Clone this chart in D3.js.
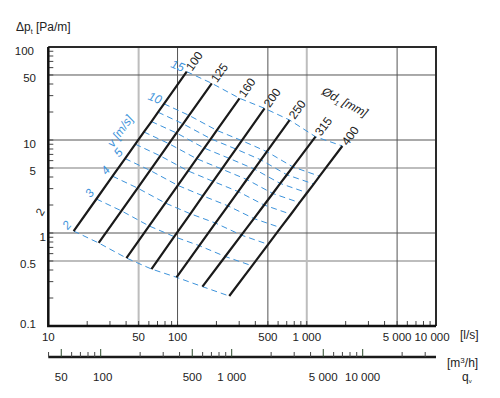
<!DOCTYPE html>
<html>
<head>
<meta charset="utf-8">
<script src="https://d3js.org/d3.v7.min.js"></script>
<style>
body{margin:0;background:#fff;}
svg text{font-family:"Liberation Sans",Arial,Helvetica,sans-serif;fill:#222;}
</style>
</head>
<body>
<div id="chart"></div>
<script>
// duct diameters [mm] and air velocities [m/s]
var diameters=[100,125,160,200,250,315,400];
var velocities=[2,3,4,5,6,7,8,9,10,15];
var velocityLabels=[2,3,4,5,10,15];

// pressure drop [Pa/m], one row per velocity, one value per diameter
var dp_v2 =[1.05,0.781,0.538,0.41,0.334,0.265,0.21];
var dp_v3 =[2.32,1.73,1.19,0.914,0.731,0.559,0.444];
var dp_v4 =[4.08,3.04,2.10,1.61,1.28,0.949,0.754];
var dp_v5 =[6.31,4.71,3.25,2.51,1.96,1.43,1.14];
var dp_v6 =[9.02,6.74,4.65,3.59,2.79,2.0,1.59];
var dp_v7 =[12.2,9.12,6.29,4.87,3.76,2.66,2.12];
var dp_v8 =[15.8,11.9,8.18,6.34,4.87,3.41,2.71];
var dp_v9 =[19.9,14.9,10.3,8.0,6.11,4.23,3.36];
var dp_v10=[24.5,18.4,12.7,9.85,7.5,5.14,4.08];
var dp_v15=[54.3,40.7,28.1,21.9,16.4,10.85,8.62];
var pressureTable=[dp_v2,dp_v3,dp_v4,dp_v5,dp_v6,dp_v7,dp_v8,dp_v9,dp_v10,dp_v15];

var ls_ticks=[10,50,100,500,1000,5000,10000];
var ls_labels=["10","50","100","500","1 000","5 000","10 000"];
var m3h_ticks=[50,100,500,1000,5000,10000];
var m3h_labels=["50","100","500","1 000","5 000","10 000"];
var dp_ticks=[0.1,0.5,1,2,5,10,50,100];
var dp_labels=["0.1","0.5","1","2","5","10","50","100"];
var darkGridX=[100,500,5000], lightGridX=[50,1000];
var darkGridY=[1,10,50], lightGridY=[0.5,5];

// flow [l/s] through a round duct: q = v * pi d^2 / 4
function flow(v,d){ return v*Math.PI*d*d/4/1000; }

var width=500, height=398;
var pl=48.3, pr=436, pt=47, pb=326;

var svg=d3.select("#chart").append("svg")
    .attr("width",width)
    .attr("height",height);

var x=d3.scaleLog().domain([10,10000]).range([pl,pr]);
var y=d3.scaleLog().domain([0.1,100]).range([pb,pt]);
var xm=d3.scaleLog().domain([100,1000]).range([100.7,231.7]);
xm=xm.copy().domain([xm.invert(pl),xm.invert(pr)]).range([pl,pr]);

// grid
svg.selectAll("line.gxl").data(lightGridX).enter().append("line")
    .attr("x1",function(d){return x(d);}).attr("x2",function(d){return x(d);})
    .attr("y1",pt).attr("y2",pb)
    .style("stroke","#bdbdbd").style("stroke-width",2);
svg.selectAll("line.gyl").data(lightGridY).enter().append("line")
    .attr("x1",pl).attr("x2",pr)
    .attr("y1",function(d){return y(d);}).attr("y2",function(d){return y(d);})
    .style("stroke","#bdbdbd").style("stroke-width",2);
svg.selectAll("line.gxd").data(darkGridX).enter().append("line")
    .attr("x1",function(d){return x(d);}).attr("x2",function(d){return x(d);})
    .attr("y1",pt).attr("y2",pb)
    .style("stroke","#555").style("stroke-width",1);
svg.selectAll("line.gyd").data(darkGridY).enter().append("line")
    .attr("x1",pl).attr("x2",pr)
    .attr("y1",function(d){return y(d);}).attr("y2",function(d){return y(d);})
    .style("stroke","#555").style("stroke-width",1);

// minor ticks inside the frame
svg.selectAll("line.tx").data(x.ticks()).enter().append("line")
    .attr("x1",function(d){return x(d);}).attr("x2",function(d){return x(d);})
    .attr("y1",pb).attr("y2",pb-5)
    .style("stroke","#444").style("stroke-width",1);
svg.selectAll("line.ty").data(y.ticks()).enter().append("line")
    .attr("x1",pl).attr("x2",pl+5)
    .attr("y1",function(d){return y(d);}).attr("y2",function(d){return y(d);})
    .style("stroke","#444").style("stroke-width",1);

// frame
svg.append("path")
    .attr("d","M"+pl+","+pt+"H"+pr+"V"+pb)
    .style("fill","none").style("stroke","#2a2a2a").style("stroke-width",2);
svg.append("path")
    .attr("d","M"+pl+","+pt+"V"+pb+"H"+pr)
    .style("fill","none").style("stroke","#111").style("stroke-width",2.5);

// axis labels
svg.selectAll("text.xl").data(ls_ticks).enter().append("text")
    .attr("x",function(d){return x(d)-(d==10000?4:0);})
    .attr("y",340.5)
    .attr("text-anchor","middle")
    .style("font-size","11.5px")
    .text(function(d,i){return ls_labels[i];});

svg.selectAll("text.yl").data(dp_ticks).enter().append("text")
    .attr("transform",function(d,i){
        var lx=36, ly=y(d)+7.5;
        if(d==100) lx=34;
        if(d==1) lx=46;
        if(d==0.1) ly=y(d)+1.5;
        if(d==2) return "translate(40,"+(y(d)+7)+") rotate(-60)";
        return "translate("+lx+","+ly+")";
    })
    .attr("text-anchor",function(d){return d==2?"middle":"end";})
    .attr("dy",function(d){return d==2?"0.35em":0;})
    .style("font-size","11.5px")
    .text(function(d,i){return dp_labels[i];});

var yt=svg.append("text").attr("x",16).attr("y",31).style("font-size","12px");
yt.append("tspan").text("Δp");
yt.append("tspan").attr("dy",3).style("font-size","7px").text("t");
yt.append("tspan").attr("dy",-3).text(" [Pa/m]");

svg.append("text").attr("x",460).attr("y",339).style("font-size","12px").text("[l/s]");

// second flow axis in m3/h
var my=357;
svg.append("line").attr("x1",pl).attr("x2",pr).attr("y1",my).attr("y2",my)
    .style("stroke","#1a1a1a").style("stroke-width",2.5);
svg.selectAll("line.tm").data(xm.ticks()).enter().append("line")
    .attr("x1",function(d){return xm(d);}).attr("x2",function(d){return xm(d);})
    .attr("y1",my).attr("y2",function(d){return m3h_ticks.indexOf(d)>=0?my-8:my-5;})
    .style("stroke",function(d){return m3h_ticks.indexOf(d)>=0?"#2c4a2c":"#444";})
    .style("stroke-width",1);
svg.selectAll("text.ml").data(m3h_ticks).enter().append("text")
    .attr("x",function(d){return xm(d)+(d==100?2:0);})
    .attr("y",381)
    .attr("text-anchor","middle")
    .style("font-size","11.5px")
    .text(function(d,i){return m3h_labels[i];});
var mt=svg.append("text").attr("x",447).attr("y",367).style("font-size","12px");
mt.append("tspan").text("[m");
mt.append("tspan").attr("dy",-4).style("font-size","8px").text("3");
mt.append("tspan").attr("dy",4).text("/h]");
var qt=svg.append("text").attr("x",462).attr("y",381).style("font-size","12px");
qt.append("tspan").text("q");
qt.append("tspan").attr("dy",2).style("font-size","6px").text("v");

// velocity lines (dashed)
var line=d3.line().x(function(p){return x(p[0]);}).y(function(p){return y(p[1]);});
var blue="#3d93db";

var vRows=velocities.map(function(v,i){
    return diameters.map(function(d,j){return [flow(v,d),pressureTable[i][j]];});
});
svg.selectAll("path.vel").data(vRows).enter().append("path")
    .attr("d",line)
    .style("fill","none").style("stroke",blue).style("stroke-width",1)
    .style("stroke-dasharray","6,4");

// diameter lines
var dRows=diameters.map(function(d,j){
    return velocities.map(function(v,i){return [flow(v,d),pressureTable[i][j]];});
});
svg.selectAll("path.dia").data(dRows).enter().append("path")
    .attr("d",line)
    .style("fill","none").style("stroke","#1a1a1a").style("stroke-width",2.2);

svg.selectAll("text.dl").data(dRows).enter().append("text")
    .attr("transform",function(r){
        var p0=r[0], p1=r[r.length-1];
        var x0=x(p0[0]), y0=y(p0[1]), x1=x(p1[0]), y1=y(p1[1]);
        var a=Math.atan2(y1-y0,x1-x0)*180/Math.PI;
        return "translate("+x1+","+y1+") rotate("+a+")";
    })
    .attr("dx",3).attr("dy","0.35em")
    .style("font-size","12px")
    .text(function(r,j){return diameters[j];});

// velocity labels next to the 100 mm line
svg.selectAll("text.vl").data(velocityLabels).enter().append("text")
    .attr("transform",function(v){
        var i=velocities.indexOf(v);
        var px=x(flow(v,diameters[0])), py=y(pressureTable[i][0]);
        var big=String(v).length>1;
        var r=big?22:-50;
        return "translate("+(px-(big?9:7))+","+(py-6)+") rotate("+r+")";
    })
    .attr("text-anchor","middle").attr("dy","0.35em")
    .style("font-size","12px").style("font-style","italic").style("fill",blue)
    .text(function(v){return v;});

svg.append("text")
    .attr("transform","translate(120,131) rotate(-55)")
    .attr("text-anchor","middle").attr("dy","0.35em")
    .style("font-size","12px").style("font-style","italic").style("fill",blue)
    .text("v [m/s]");

var dt=svg.append("text")
    .attr("transform","translate(345,102) rotate(28)")
    .attr("text-anchor","middle").attr("dy","0.35em")
    .style("font-size","12px").style("font-style","italic");
dt.append("tspan").text("Ød");
dt.append("tspan").attr("dy",3).style("font-size","7px").text("1");
dt.append("tspan").attr("dy",-3).text(" [mm]");
</script>
</body>
</html>
